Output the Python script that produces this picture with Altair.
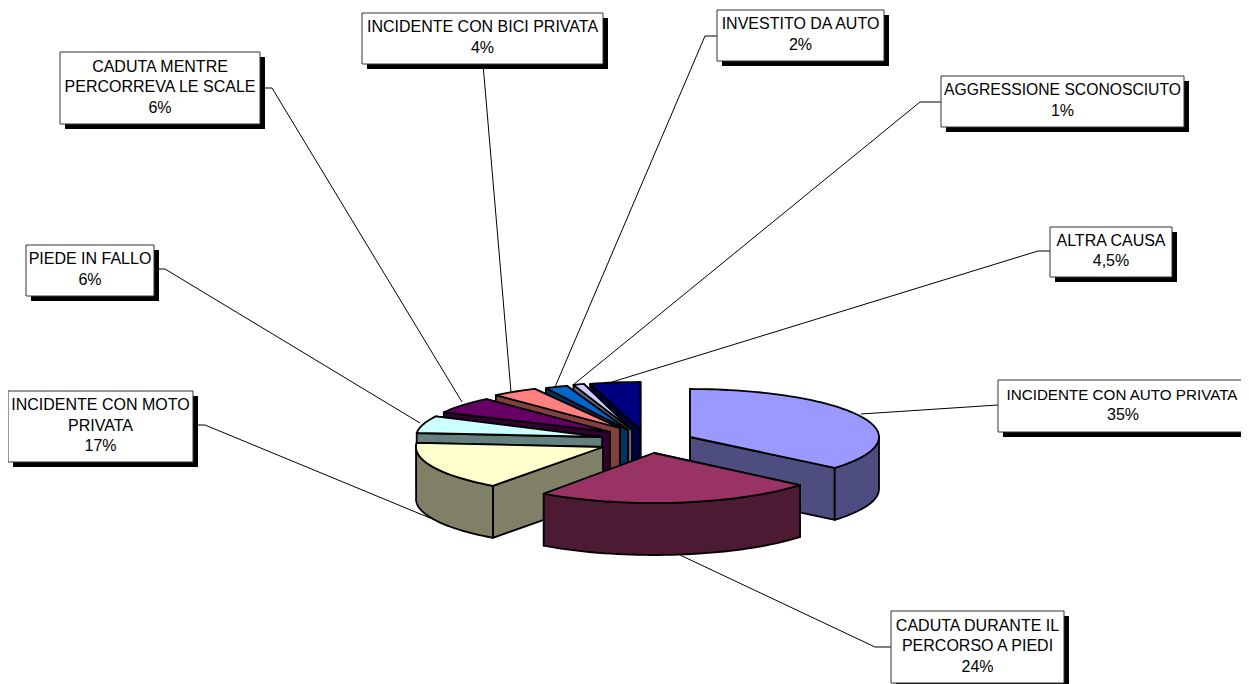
import math
import altair as alt
import pandas as pd

# ---- values ----
categories = ["INCIDENTE CON AUTO PRIVATA", "CADUTA DURANTE IL PERCORSO A PIEDI", "INCIDENTE CON MOTO PRIVATA",
              "PIEDE IN FALLO", "CADUTA MENTRE PERCORREVA LE SCALE", "INCIDENTE CON BICI PRIVATA",
              "INVESTITO DA AUTO", "AGGRESSIONE SCONOSCIUTO", "ALTRA CAUSA"]
values = [35, 24, 17, 6, 6, 4, 2, 1, 4.5]
value_labels = ["35%", "24%", "17%", "6%", "6%", "4%", "2%", "1%", "4,5%"]
label_lines = [["INCIDENTE CON AUTO PRIVATA"], ["CADUTA DURANTE IL", "PERCORSO A PIEDI"],
               ["INCIDENTE CON MOTO", "PRIVATA"], ["PIEDE IN FALLO"], ["CADUTA MENTRE", "PERCORREVA LE SCALE"],
               ["INCIDENTE CON BICI PRIVATA"], ["INVESTITO DA AUTO"], ["AGGRESSIONE SCONOSCIUTO"], ["ALTRA CAUSA"]]
top_colors = ["#9999FF", "#993366", "#FFFFCC", "#CCFFFF", "#660066", "#FF8080", "#0066CC", "#CCCCFF", "#000080"]
side_colors = ["#4D4D80", "#4D1A33", "#808066", "#668080", "#330033", "#804040", "#003366", "#666680", "#000040"]

# ---- drawing layout: exploded 3-D pie, per slice centre / radii / small perspective corrections ----
centres = [(690, 437), (654, 453), (603, 447), (602, 437), (610, 432), (620, 428), (628, 430), (632, 430), (640.5, 430)]
radii = [(189, 48), (190, 50), (187, 48), (186, 46), (186, 44), (187, 44), (180, 47), (172, 48), (180, 48)]
angle_fix = [(0, 3.4), (3.2, 2), (2.6, 0), (0, 0), (0, 0), (0, 0), (0, 0), (0, 0), (0, 0)]
DEPTH = 52
draw_order = [8, 7, 6, 5, 4, 3, 2, 0, 1]
boxes = [(998, 380, 1248, 432), (891, 611, 1064, 683), (8, 391, 193, 462), (26, 245, 154, 296),
         (60, 52, 260, 124), (362, 13, 603, 64), (717, 10, 884, 61), (941, 76, 1184, 127), (1050, 227, 1172, 277)]
leaders = [[(998, 405), (861, 414)], [(891, 647), (875, 647), (680, 555)], [(193, 425), (205, 425), (430, 518)],
           [(154, 269), (165, 269), (420, 423)], [(260, 88), (272, 88), (462, 402)], [(483, 64), (511, 392)],
           [(717, 36), (705, 36), (555, 387)], [(941, 102), (920, 102), (573, 385)], [(1050, 251), (1038, 251), (612, 382)]]
SHADOW = 5
FONT = "Liberation Sans"
FONT_SIZE = 16
LINE_H = 20.5
TEXT_SHIFT = -1
line_size_fix = {"INCIDENTE CON AUTO PRIVATA": 15.2, "AGGRESSIONE SCONOSCIUTO": 15.7}
line_x_fix = {"INCIDENTE CON AUTO PRIVATA": 1122}

# ---- slice geometry derived from the values ----
total = sum(values)
starts, ends, acc = [], [], 0.0
for v in values:
    starts.append(acc / total * 360)
    acc += v
    ends.append(acc / total * 360)

rows = []
pid = 0


def add_poly(pts, fill):
    global pid
    for k, (x, y) in enumerate(pts):
        rows.append({"poly": pid, "k": k, "x": x, "y": y, "fill": fill})
    pid += 1


for i in draw_order:
    cx, cy = centres[i]
    a, b = radii[i]
    t0 = starts[i] + angle_fix[i][0]
    t1 = ends[i] + angle_fix[i][1]
    n = max(6, int((t1 - t0) / 2))
    angles = [t0 + (t1 - t0) * j / n for j in range(n + 1)]
    pt = lambda t: (cx + a * math.sin(math.radians(t)), cy - b * math.cos(math.radians(t)))
    arc = [pt(t) for t in angles]
    down = lambda p: (p[0], p[1] + DEPTH)
    c = (cx, cy)
    # walls
    add_poly([c, arc[-1], down(arc[-1]), down(c)], side_colors[i])
    add_poly([c, arc[0], down(arc[0]), down(c)], side_colors[i])
    # outer curved side (visible lower half only)
    lo, hi = max(t0, 90), min(t1, 272)
    if hi > lo:
        m = max(4, int((hi - lo) / 2))
        vis = [pt(lo + (hi - lo) * j / m) for j in range(m + 1)]
        add_poly(vis + [down(p) for p in reversed(vis)], side_colors[i])
    # top face
    add_poly([c] + arc, top_colors[i])

poly_df = pd.DataFrame(rows)

lead_rows = [{"id": i, "k": k, "x": p[0], "y": p[1]} for i, l in enumerate(leaders) for k, p in enumerate(l)]
lead_df = pd.DataFrame(lead_rows)

box_df = pd.DataFrame([{"x": b[0], "y": b[1], "x2": b[2], "y2": b[3],
                        "sx": b[0] + SHADOW, "sy": b[1] + SHADOW, "sx2": b[2] + SHADOW, "sy2": b[3] + SHADOW}
                       for b in boxes])

text_rows = []
for b, lines, val in zip(boxes, label_lines, value_labels):
    all_lines = lines + [val]
    mid = (b[1] + b[3]) / 2 + TEXT_SHIFT
    for k, t in enumerate(all_lines):
        text_rows.append({"x": line_x_fix.get(t, (b[0] + b[2]) / 2),
                          "y": mid + (k - (len(all_lines) - 1) / 2) * LINE_H,
                          "t": t, "s": line_size_fix.get(t, FONT_SIZE)})
text_df = pd.DataFrame(text_rows)

X = alt.Scale(domain=[8, 1241], nice=False, zero=False)
Y = alt.Scale(domain=[684, 8], nice=False, zero=False)
qx = lambda f: alt.X(f, type="quantitative", scale=X, axis=None)
qy = lambda f: alt.Y(f, type="quantitative", scale=Y, axis=None)

lead_layer = alt.Chart(lead_df).mark_line(color="black", strokeWidth=1).encode(
    x=qx("x"), y=qy("y"), detail="id:N", order="k:Q")

pie_layer = alt.Chart(poly_df).mark_line(interpolate="linear-closed", filled=True, stroke="black",
                                         strokeWidth=1.8, strokeJoin="round").encode(
    x=qx("x"), y=qy("y"), detail="poly:N", order="k:Q",
    fill=alt.Fill("fill:N", scale=None))

shadow_layer = alt.Chart(box_df).mark_rect(color="black").encode(
    x=qx("sx"), x2="sx2", y=qy("sy"), y2="sy2")
box_layer = alt.Chart(box_df).mark_rect(fill="white", stroke="#333333", strokeWidth=1).encode(
    x=qx("x"), x2="x2", y=qy("y"), y2="y2")
text_layer = alt.Chart(text_df).mark_text(font=FONT, color="black", align="center", baseline="middle").encode(
    x=qx("x"), y=qy("y"), text="t:N", size=alt.Size("s:Q", scale=None))

chart = alt.layer(lead_layer, pie_layer, shadow_layer, box_layer, text_layer).properties(
    width=1233, height=676, padding=0, autosize=alt.AutoSizeParams(type="none"), background="white"
).configure_view(stroke=None)

chart.save("out.html", embed_options={"renderer": "svg", "actions": False})
